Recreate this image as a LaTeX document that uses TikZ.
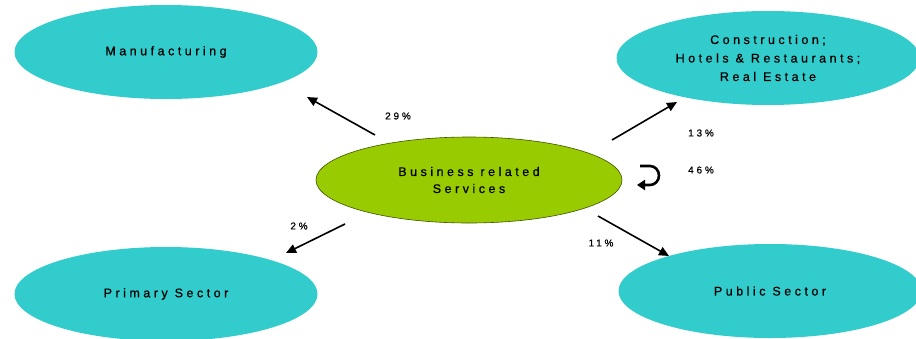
\documentclass[tikz,border=0pt]{standalone}
\usepackage{fontspec}
\setmainfont{Liberation Sans}[LetterSpace=28,FakeBold=0.6]
\usetikzlibrary{arrows.meta,shapes.geometric}
\definecolor{cyanfill}{HTML}{33CCCC}
\definecolor{greenfill}{HTML}{99CC00}
\begin{document}
\begin{tikzpicture}[x=1pt,y=-1pt,
  sector/.style={ellipse, fill=cyanfill, minimum width=303pt, minimum height=94pt, inner sep=0pt, align=center, font=\fontsize{12.5}{18.5}\selectfont},
  core/.style={ellipse, fill=greenfill, draw=black!60!greenfill, line width=0.6pt, minimum width=306pt, minimum height=86pt, inner sep=0pt, align=center, font=\fontsize{12.5}{17}\selectfont},
  flow/.style={-{Triangle[length=10pt,width=9pt]}, line width=1.6pt, shorten >=0pt},
  pct/.style={font=\fontsize{10}{12}\selectfont, inner sep=0pt}]
\useasboundingbox (0,0) rectangle (916,338);
\begin{scope}
\clip (0,0) rectangle (916,338);
\node[sector] (man) at (166,52) {Manufacturing};
\node[sector] (con) at (768,58) {Construction;\\Hotels \& Restaurants;\\Real Estate};
\node[sector] (pri) at (166,294) {Primary Sector};
\node[sector] (pub) at (770,291) {Public Sector};
\node[core] (bus) at (469,180) {Business related\\Services};
\end{scope}
\coordinate (a1s) at (375,135); \coordinate (a1e) at (307,97);
\coordinate (a2s) at (612,140); \coordinate (a2e) at (677,102);
\coordinate (a3s) at (345,224); \coordinate (a3e) at (286,253);
\coordinate (a4s) at (598,216); \coordinate (a4e) at (669,256);
\draw[flow] (a1s) -- (a1e);
\draw[flow] (a2s) -- (a2e);
\draw[flow] (a3s) -- (a3e);
\draw[flow] (a4s) -- (a4e);
\coordinate (u1) at (640,166);
\coordinate (u2) at (637,185);
\draw[flow, -{Triangle[length=8pt,width=10pt]}, line width=2.6pt] (u1) -- (650,166) arc[start angle=-90, end angle=90, x radius=9pt, y radius=-9.5pt] -- (u2);
\node[pct] (p29) at (398,116) {29\%};
\node[pct] (p13) at (701,133) {13\%};
\node[pct] (p46) at (701,170) {46\%};
\node[pct] (p2) at (299,226) {2\%};
\node[pct] (p11) at (601,243) {11\%};
\end{tikzpicture}
\end{document}
